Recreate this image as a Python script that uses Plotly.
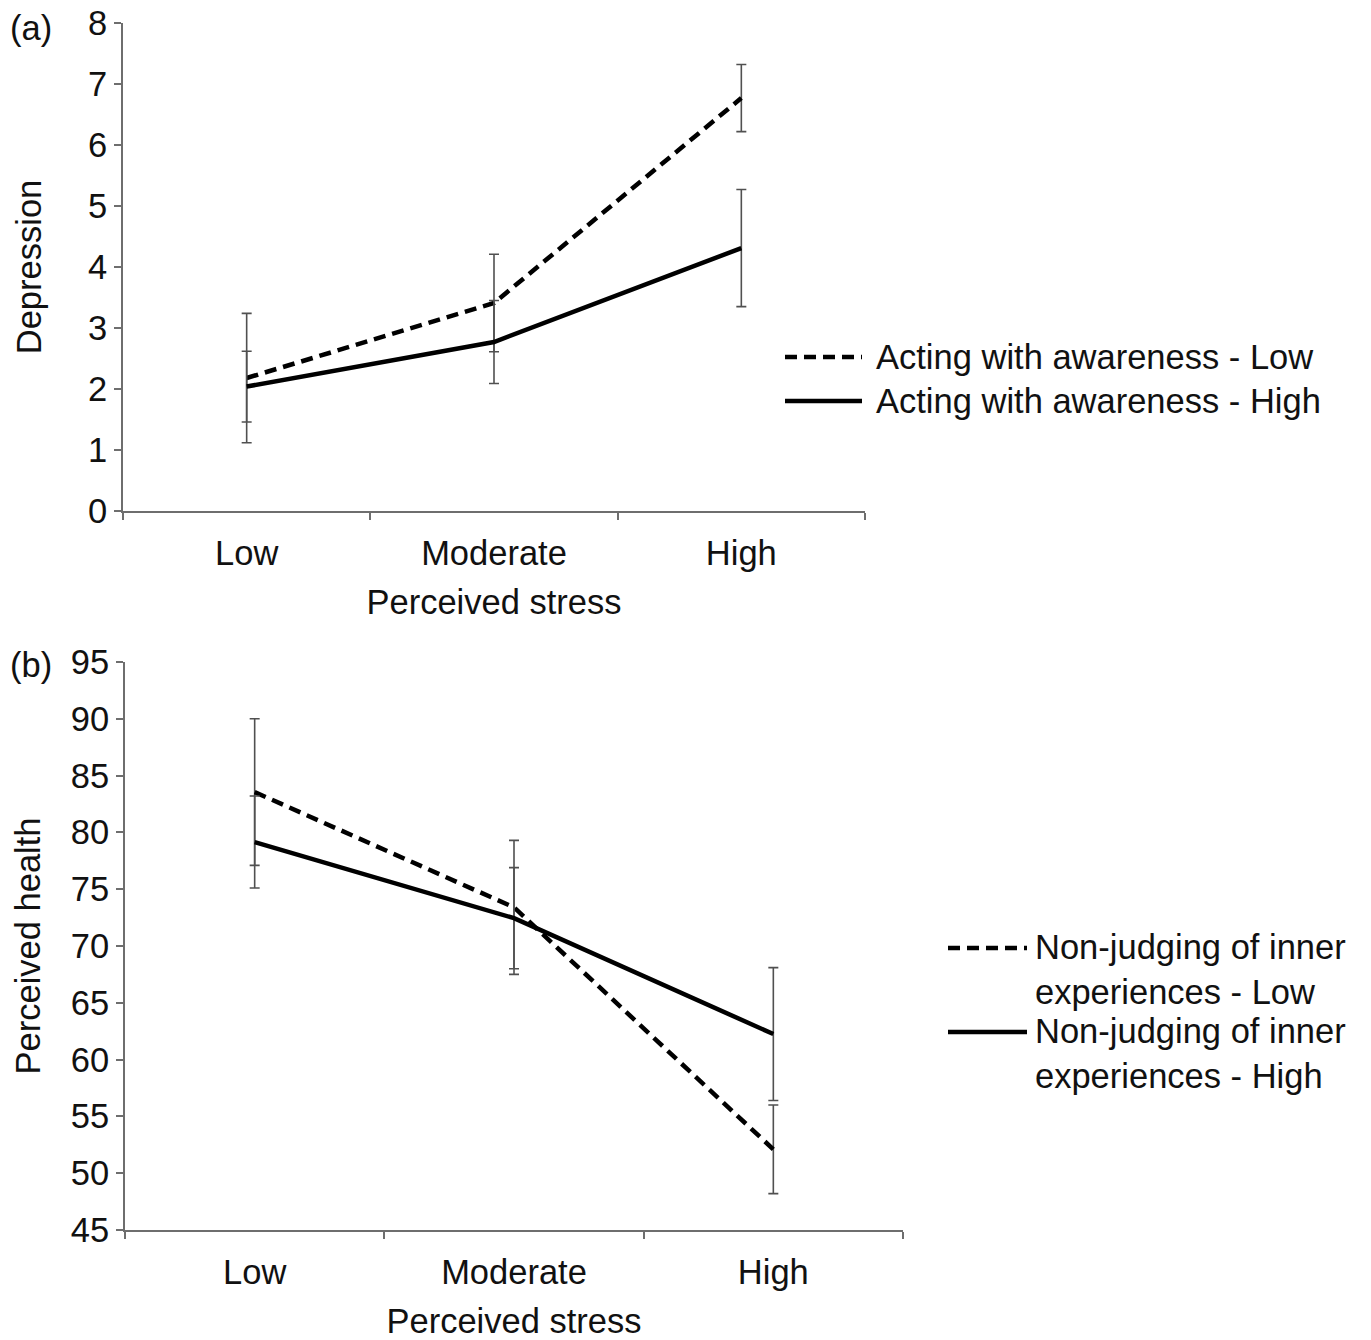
import plotly.graph_objects as go

W, H = 1371, 1340
FONT = "Liberation Sans, Arial, Helvetica, sans-serif"
FS = 34.5

categories = ["Low", "Moderate", "High"]

# Panel (a): Depression
dep_low_aw = [2.18, 3.41, 6.77]
dep_low_aw_err = [1.06, 0.80, 0.55]
dep_high_aw = [2.04, 2.77, 4.31]
dep_high_aw_err = [0.58, 0.68, 0.96]

# Panel (b): Perceived health
hlt_low_nj = [83.55, 73.4, 52.1]
hlt_low_nj_err = [6.45, 5.9, 3.9]
hlt_high_nj = [79.15, 72.45, 62.25]
hlt_high_nj_err = [4.05, 4.45, 5.85]

legend_a = ["Acting with awareness - Low", "Acting with awareness - High"]
legend_b = ["Non-judging of inner<br>experiences - Low", "Non-judging of inner<br>experiences - High"]

DASH = "12px,7px"
ERR_COLOR = "#505050"
AX_COLOR = "#6e6e6e"


def px_x(v):
    return v / W


def px_y(v):
    return (H - v) / H


fig = go.Figure()


def add_series(y, err, dash, xa, ya):
    fig.add_trace(go.Scatter(
        x=categories, y=y, mode="lines",
        line=dict(color="black", width=4.5, dash=dash),
        error_y=dict(type="data", array=err, visible=True,
                     color=ERR_COLOR, thickness=1.6, width=5),
        xaxis=xa, yaxis=ya, showlegend=False, hoverinfo="skip"))


add_series(dep_low_aw, dep_low_aw_err, DASH, "x", "y")
add_series(dep_high_aw, dep_high_aw_err, "solid", "x", "y")
add_series(hlt_low_nj, hlt_low_nj_err, DASH, "x2", "y2")
add_series(hlt_high_nj, hlt_high_nj_err, "solid", "x2", "y2")

xcommon = dict(type="category", tickson="boundaries", ticks="outside", ticklen=7,
               tickwidth=1.5, tickcolor=AX_COLOR, showline=True, linecolor=AX_COLOR,
               linewidth=2, showgrid=False, zeroline=False, automargin=False,
               tickfont=dict(family=FONT, size=FS, color="#111"),
               ticklabelstandoff=11, range=[-0.5, 2.5])
ycommon = dict(ticks="outside", ticklen=7, tickwidth=1.5, tickcolor=AX_COLOR,
               showline=True, linecolor=AX_COLOR, linewidth=2, showgrid=False,
               zeroline=False, automargin=False, ticklabeloverflow="allow",
               tickfont=dict(family=FONT, size=FS, color="#111"))

fig.update_layout(
    width=W, height=H,
    margin=dict(l=0, r=0, t=0, b=0),
    paper_bgcolor="white", plot_bgcolor="white",
    font=dict(family=FONT, size=FS, color="#111"),
    xaxis=dict(domain=[px_x(123), px_x(865)], anchor="y",
               title=dict(text="Perceived stress", standoff=18,
                          font=dict(family=FONT, size=FS)), **xcommon),
    yaxis=dict(domain=[px_y(511), px_y(23)], anchor="x", range=[0, 8], dtick=1,
               title=dict(text="Depression", standoff=36,
                          font=dict(family=FONT, size=FS)), **ycommon),
    xaxis2=dict(domain=[px_x(125), px_x(903)], anchor="y2",
                title=dict(text="Perceived stress", standoff=18,
                           font=dict(family=FONT, size=FS)), **xcommon),
    yaxis2=dict(domain=[px_y(1230), px_y(662)], anchor="x2", range=[45, 95], dtick=5,
                title=dict(text="Perceived health", standoff=20,
                           font=dict(family=FONT, size=FS)), **ycommon),
)

# Panel labels
fig.add_annotation(text="(a)", xref="paper", yref="paper", x=px_x(8), y=px_y(28),
                   xanchor="left", yanchor="middle", showarrow=False,
                   font=dict(family=FONT, size=FS))
fig.add_annotation(text="(b)", xref="paper", yref="paper", x=px_x(8), y=px_y(665),
                   xanchor="left", yanchor="middle", showarrow=False,
                   font=dict(family=FONT, size=FS))


# Manual legends
def legend_item(x0, x1, ytxt, yline, text, dash, xtext):
    fig.add_shape(type="line", xref="paper", yref="paper",
                  x0=px_x(x0), x1=px_x(x1), y0=px_y(yline), y1=px_y(yline),
                  line=dict(color="black", width=4.5, dash=dash))
    fig.add_annotation(text=text, xref="paper", yref="paper", x=px_x(xtext), y=px_y(ytxt),
                       xanchor="left", yanchor="middle", align="left", showarrow=False,
                       font=dict(family=FONT, size=FS))


legend_item(785, 862, 357, 357, legend_a[0], DASH, 874)
legend_item(785, 862, 401, 401, legend_a[1], "solid", 874)
legend_item(948, 1027, 969, 948, legend_b[0], DASH, 1033)
legend_item(948, 1027, 1053, 1032, legend_b[1], "solid", 1033)

fig.write_html("out.html", config={"displayModeBar": False},
               post_script="document.body.style.margin='0';")
